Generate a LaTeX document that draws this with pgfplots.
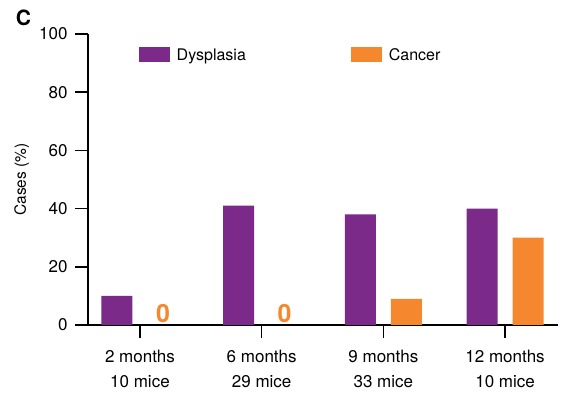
\documentclass[border=0pt]{standalone}
\usepackage{fontspec}
\setmainfont{TeX Gyre Heros}
\usepackage{pgfplots}
\pgfplotsset{compat=1.18}

\definecolor{dysp}{HTML}{7B2A8A}
\definecolor{canc}{HTML}{F5872F}

\begin{document}
\begin{tikzpicture}
\path[use as bounding box] (0,0) rectangle (562bp,396bp);
\node[font=\fontsize{21bp}{24bp}\selectfont\bfseries] at (23.5bp,378.5bp) {C};
\begin{axis}[
  at={(88bp,71bp)}, anchor=south west,
  scale only axis, width=470bp, height=291bp,
  xmin=-0.427, xmax=3.435,
  ymin=0, ymax=100,
  ytick={0,20,40,60,80,100},
  xtick={0,1,2,3},
  xticklabels={{2 months\\10 mice},{6 months\\29 mice},{9 months\\33 mice},{12 months\\10 mice}},
  axis x line*=bottom, axis y line*=left,
  axis line style={line width=1.6bp},
  major tick style={line width=1.6bp, black},
  tick align=outside, major tick length=13bp,
  /pgf/number format/assume math mode=true,
  tick label style={font=\fontsize{17bp}{25bp}\selectfont},
  xticklabel style={align=center, yshift=-9bp},
  yticklabel style={xshift=-4bp},
  ylabel={Cases (\%)},
  ylabel style={font=\fontsize{15.5bp}{17bp}\selectfont, at={(axis description cs:-0.141,0.5)}, anchor=center, rotate=0},
  ybar, bar width=31bp,
  legend columns=2,
  legend style={draw=none, fill=none, at={(axis description cs:0.1085,0.928)}, anchor=west,
    inner sep=0pt, font=\fontsize{16bp}{18bp}\selectfont,
    /tikz/every odd column/.append style={column sep=3bp},
    /tikz/every even column/.append style={column sep=102bp},
    nodes={inner sep=3.5bp}},
  legend image code/.code={\fill[#1] (0bp,-7.5bp) rectangle (31bp,7.5bp);},
]
\addplot[fill=dysp, draw=none, bar shift=-23bp] coordinates {(0,10) (1,41) (2,38) (3,40)};
\addlegendentry{Dysplasia}
\addplot[fill=canc, draw=none, bar shift=23bp,
  point meta=explicit symbolic,
  nodes near coords,
  every node near coord/.append style={font=\fontsize{25bp}{27bp}\selectfont\bfseries, text=canc, anchor=south, inner sep=0bp, yshift=2bp}]
  coordinates {(0,0) [0] (1,0) [0] (2,9) [] (3,30) []};
\addlegendentry{Cancer}
\end{axis}
\end{tikzpicture}
\end{document}
